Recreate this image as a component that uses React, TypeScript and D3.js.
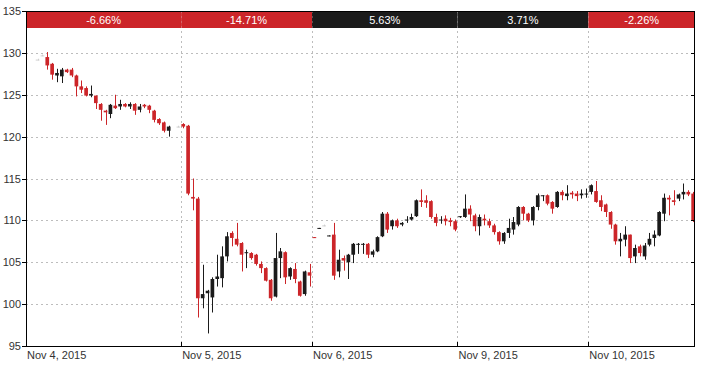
import * as d3 from 'd3'

// [open, high, low, close, extendedHours?]
type Bar = [number, number, number, number, number?] | null

const DAY_LABELS = ['Nov 4, 2015', 'Nov 5, 2015', 'Nov 6, 2015', 'Nov 9, 2015', 'Nov 10, 2015']
const DAY_CHANGE = [-6.66, -14.71, 5.63, 3.71, -2.26]
const Y_TICKS = [95, 100, 105, 110, 115, 120, 125, 130, 135]

const NOV4: Bar[] = [
  null, null,
  [129.2, 129.3, 129.1, 129.2, 1],
  [129.7, 129.8, 129.6, 129.7, 1],
  [129.5, 130.1, 128.0, 128.5],
  [128.7, 128.8, 126.8, 127.4],
  [127.3, 128.1, 126.5, 127.6],
  [127.2, 128.2, 126.4, 128.0],
  [128.0, 128.1, 127.6, 127.7],
  [128.0, 128.2, 127.1, 127.3],
  [127.3, 127.4, 124.8, 126.0],
  [126.0, 126.7, 125.2, 125.6],
  [125.8, 126.0, 124.8, 124.9],
  [124.9, 126.1, 124.7, 125.1],
  [124.9, 124.9, 123.3, 124.0],
  [123.9, 124.0, 121.9, 123.2],
  [123.1, 123.2, 121.4, 122.9],
  [122.7, 123.9, 122.2, 123.8],
  [123.7, 125.0, 123.3, 123.4],
  [123.6, 124.4, 123.2, 123.9],
  [123.9, 124.0, 123.5, 123.6],
  [123.6, 124.1, 123.3, 123.9],
  [123.9, 124.0, 122.6, 123.1],
  [123.2, 123.9, 122.9, 123.6],
  [123.8, 123.9, 123.4, 123.6],
  [123.7, 123.8, 122.8, 123.2],
  [123.1, 123.2, 121.7, 122.0],
  [122.1, 122.2, 121.4, 121.6],
  [121.7, 121.8, 120.5, 120.7],
  [120.7, 121.3, 120.0, 121.2],
  null,
  [121.2, 121.3, 121.1, 121.2, 1],
]

const NOV5: Bar[] = [
  [121.5, 121.6, 121.0, 121.2],
  [121.3, 121.4, 113.0, 113.2],
  [112.8, 115.0, 111.2, 112.6],
  [112.6, 112.8, 98.4, 100.7],
  [100.7, 104.7, 99.5, 101.2],
  [101.3, 101.7, 96.5, 101.6],
  [100.8, 103.2, 99.0, 103.0],
  [103.0, 105.9, 102.1, 103.3],
  [103.1, 106.9, 102.0, 105.7],
  [105.7, 108.6, 105.1, 108.1],
  [108.5, 108.7, 106.9, 107.9],
  [107.8, 109.7, 106.9, 107.1],
  [107.3, 107.4, 103.9, 105.9],
  [106.1, 106.5, 104.3, 106.2],
  [106.1, 106.2, 105.3, 105.5],
  [105.9, 106.0, 104.6, 104.8],
  [104.8, 105.1, 103.7, 104.3],
  [104.3, 104.4, 102.7, 102.8],
  [102.9, 103.0, 100.4, 100.7],
  [100.9, 108.5, 100.8, 105.5],
  [105.5, 106.7, 103.1, 106.3],
  [106.2, 106.3, 102.4, 103.2],
  [103.3, 104.4, 102.9, 104.3],
  [104.2, 104.9, 102.5, 103.0],
  [102.7, 102.8, 100.9, 101.0],
  [101.2, 104.0, 101.0, 103.9],
  [103.8, 104.8, 102.1, 103.4],
]

const NOV6: Bar[] = [
  [108.0, 108.0, 107.9, 107.9],
  [109.0, 109.1, 109.0, 109.1],
  [109.4, 109.5, 109.3, 109.4, 1],
  [108.1, 108.2, 108.1, 108.2],
  [108.3, 109.7, 102.9, 103.4],
  [103.9, 106.5, 103.2, 105.3],
  [105.5, 105.8, 104.0, 105.2],
  [105.0, 106.0, 103.0, 105.9],
  [105.9, 107.3, 104.9, 107.2],
  [107.1, 107.3, 106.0, 107.2],
  [107.1, 107.3, 106.0, 107.2],
  [107.2, 107.3, 105.5, 105.9],
  [105.9, 106.5, 105.6, 106.3],
  [106.3, 108.1, 106.2, 108.0],
  [108.1, 111.0, 108.0, 110.8],
  [110.8, 111.0, 108.5, 108.9],
  [109.3, 110.1, 108.9, 110.0],
  [110.0, 110.2, 109.1, 109.3],
  [109.5, 109.8, 109.3, 109.7],
  [110.0, 110.5, 109.7, 110.1],
  [110.1, 110.8, 110.0, 110.4],
  [110.5, 112.5, 110.4, 112.4],
  [112.4, 113.7, 111.6, 112.2],
  [112.4, 113.0, 111.5, 112.1],
  [112.3, 112.4, 110.2, 110.4],
  [110.4, 110.8, 109.3, 109.7],
  [110.0, 110.5, 109.6, 110.1],
  [110.2, 110.6, 109.4, 109.9],
  [110.0, 110.3, 109.3, 109.8],
  [109.9, 110.1, 108.7, 108.9],
]

const NOV9: Bar[] = [
  [110.4, 110.5, 110.3, 110.5],
  [110.4, 113.1, 110.3, 111.4],
  [111.4, 111.8, 109.9, 110.7],
  [110.6, 110.8, 108.7, 109.3],
  [109.3, 110.7, 108.2, 110.4],
  [110.2, 110.7, 109.4, 110.0],
  [109.9, 110.2, 109.1, 109.4],
  [109.4, 109.6, 108.3, 108.6],
  [108.6, 108.7, 107.1, 107.5],
  [107.5, 108.6, 107.2, 108.5],
  [108.5, 110.2, 107.9, 109.1],
  [108.9, 110.4, 108.3, 109.8],
  [109.5, 111.7, 109.3, 111.6],
  [111.6, 111.7, 110.0, 110.8],
  [110.8, 110.9, 109.8, 110.0],
  [110.0, 111.7, 109.4, 111.6],
  [111.6, 113.2, 111.2, 113.0],
  [112.9, 113.0, 112.3, 113.0],
  [113.0, 113.1, 111.8, 112.0],
  [112.2, 112.3, 110.8, 111.4],
  [111.6, 113.5, 111.5, 113.4],
  [113.4, 113.6, 112.4, 113.0],
  [112.9, 114.2, 112.4, 113.2],
  [113.3, 113.5, 112.6, 113.1],
  [113.2, 113.5, 112.3, 112.9],
  [113.0, 113.7, 112.6, 113.2],
  [113.1, 113.8, 112.7, 113.2],
]

const NOV10: Bar[] = [
  [113.4, 114.3, 113.1, 114.2],
  [113.5, 114.7, 112.1, 112.2],
  [112.4, 113.0, 111.1, 111.6],
  [111.9, 112.0, 110.4, 111.0],
  [111.0, 111.1, 109.0, 109.5],
  [109.5, 109.6, 107.1, 107.5],
  [107.5, 108.5, 105.7, 107.8],
  [107.7, 109.3, 106.9, 108.3],
  [108.3, 108.3, 104.9, 105.5],
  [105.7, 107.1, 104.9, 106.7],
  [106.9, 107.1, 105.7, 106.1],
  [105.7, 107.3, 105.3, 107.0],
  [107.1, 108.5, 106.9, 107.8],
  [107.9, 108.8, 106.9, 108.3],
  [108.2, 111.1, 108.1, 111.0],
  [110.8, 113.2, 109.9, 112.7],
  [112.7, 113.0, 110.6, 112.5],
  [112.4, 113.6, 111.8, 112.2],
  [112.6, 113.2, 112.3, 113.1],
  [113.1, 114.4, 112.5, 113.4],
  [113.4, 113.6, 112.9, 113.1],
  [113.2, 113.4, 109.8, 110.0],
]

const DAYS = [NOV4, NOV5, NOV6, NOV9, NOV10]

const W = 703
const H = 366
const M = { left: 26, right: 8, top: 11, bottom: 20 }
const RED = '#cc2529'
const DARK = '#1b1b1b'
const FONT = '"Liberation Sans", Arial, sans-serif'

export default function App() {
  const bars = DAYS.flat()
  const starts: number[] = []
  let acc = 0
  for (const d of DAYS) {
    starts.push(acc)
    acc += d.length
  }
  const n = bars.length
  const x0 = M.left
  const x1 = W - M.right
  const y0 = M.top
  const y1 = H - M.bottom

  const slot = d3.scaleLinear().domain([0, n]).range([x0, x1])
  const band = d3.scaleBand<number>().domain(d3.range(n)).range([x0, x1]).paddingInner(0.24)
  const y = d3.scaleLinear().domain([95, 135]).range([y1, y0])

  const bandH = 17
  const crisp = (v: number) => Math.round(v) + 0.5

  return (
    <svg width={W} height={H} style={{ position: 'absolute', left: 0, top: 0, fontFamily: FONT }}>
      <rect width={W} height={H} fill="#fff" />
      {/* grid */}
      {Y_TICKS.slice(1, -1).map((t) => (
        <line key={'gy' + t} x1={x0} x2={x1} y1={crisp(y(t))} y2={crisp(y(t))}
          stroke="#bdbdbd" strokeDasharray="2,3" />
      ))}
      {starts.slice(1).map((s) => (
        <line key={'gx' + s} x1={crisp(slot(s))} x2={crisp(slot(s))} y1={y0} y2={y1}
          stroke="#bdbdbd" strokeDasharray="2,3" />
      ))}
      {/* candles */}
      {bars.map((b, i) => {
        if (!b) return null
        const [o, h, l, c, ext] = b
        const up = c >= o
        const color = ext ? '#d0d0d0' : up ? DARK : RED
        const cx = crisp(band(i)! + band.bandwidth() / 2)
        const top = y(Math.max(o, c))
        const bh = Math.max(1, y(Math.min(o, c)) - top)
        return (
          <g key={'c' + i}>
            <line x1={cx} x2={cx} y1={y(h)} y2={y(l)} stroke={color} strokeWidth={1} />
            <rect x={band(i)!} y={top} width={band.bandwidth()} height={bh} fill={color} />
          </g>
        )
      })}
      {/* daily change band */}
      {DAYS.map((d, k) => {
        const a = slot(starts[k])
        const b = slot(starts[k] + d.length)
        return (
          <g key={'b' + k}>
            <rect x={a} y={y0} width={b - a} height={bandH} fill={DAY_CHANGE[k] < 0 ? RED : DARK} />
            <text x={(a + b) / 2} y={y0 + bandH / 2 + 4} textAnchor="middle" fill="#fff" fontSize={11}>
              {DAY_CHANGE[k].toFixed(2) + '%'}
            </text>
          </g>
        )
      })}
      {starts.slice(1).map((s) => (
        <line key={'bx' + s} x1={crisp(slot(s))} x2={crisp(slot(s))} y1={y0} y2={y0 + bandH}
          stroke="rgba(255,255,255,0.25)" strokeDasharray="2,3" />
      ))}
      {/* frame */}
      <rect x={x0 + 0.5} y={y0 + 0.5} width={x1 - x0 - 1} height={y1 - y0} fill="none" stroke="#000" />
      {/* y axis */}
      {Y_TICKS.map((t) => (
        <g key={'yt' + t}>
          <line x1={x0 - 4} x2={x0} y1={crisp(y(t))} y2={crisp(y(t))} stroke="#000" />
          <line x1={x1 - 4} x2={x1} y1={crisp(y(t))} y2={crisp(y(t))} stroke="#000" />
          <text x={x0 - 5} y={y(t) + 4} textAnchor="end" fontSize={11} fill="#333">{t}</text>
        </g>
      ))}
      {/* x axis */}
      {starts.map((s, k) => (
        <g key={'xt' + k}>
          {k > 0 && <line x1={crisp(slot(s))} x2={crisp(slot(s))} y1={y1 - 4} y2={y1} stroke="#000" />}
          <text x={slot(s) + 1} y={y1 + 13} fontSize={11} fill="#333">{DAY_LABELS[k]}</text>
        </g>
      ))}
    </svg>
  )
}
